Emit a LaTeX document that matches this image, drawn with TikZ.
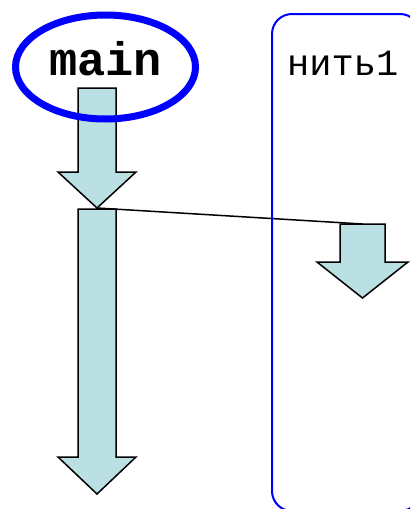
\documentclass[tikz,border=0pt]{standalone}
\usepackage{fontspec}
\setmonofont{Liberation Mono}
\usetikzlibrary{shapes.geometric}

\definecolor{flowfill}{RGB}{187,224,227}

\tikzset{
  flow/.style={draw=black, fill=flowfill, line width=1.5pt, line join=miter},
  mainoval/.style={ellipse, draw=blue, line width=7pt, inner sep=0pt,
    minimum width=180pt, minimum height=104pt},
  threadbox/.style={draw=blue, line width=2pt, rounded corners=20pt},
  spawn/.style={draw=black, line width=1.5pt}
}

% block arrow pointing down: name, x, top, head base, tip, half shaft, half head
\newcommand{\callarrow}[7]{%
  \draw[flow] (#2-#6,#3) -- (#2+#6,#3) -- (#2+#6,#4) -- (#2+#7,#4)
    -- (#2,#5) -- (#2-#7,#4) -- (#2-#6,#4) -- cycle;
  \coordinate (#1-top) at (#2,#3);
  \coordinate (#1-tip) at (#2,#5);}

\begin{document}
\begin{tikzpicture}[x=1pt, y=-1pt]
  \useasboundingbox (0,0) rectangle (410,509);
  \begin{scope}
    \clip (0,0) rectangle (410,509);

    % main thread
    \callarrow{call}{97}{88}{172}{208}{19}{39}
    \callarrow{rest}{97}{209}{457}{494}{19}{39}

    % new thread
    \callarrow{worker}{362.5}{224}{262}{298}{22.5}{45.5}
    \draw[spawn] (call-tip) -- (worker-top);

    \node[mainoval] (main) at (105.5,67) {};
    \node[anchor=base, font=\ttfamily\bfseries\fontsize{47}{47}\selectfont]
      (mainname) at (105.5,75) {main};

    \draw[threadbox] (272,14) rectangle (420,511);
    \node[anchor=base west, inner sep=0pt, font=\ttfamily\fontsize{37}{37}\selectfont]
      (threadname) at (287,75) {нить1};
  \end{scope}
\end{tikzpicture}
\end{document}
